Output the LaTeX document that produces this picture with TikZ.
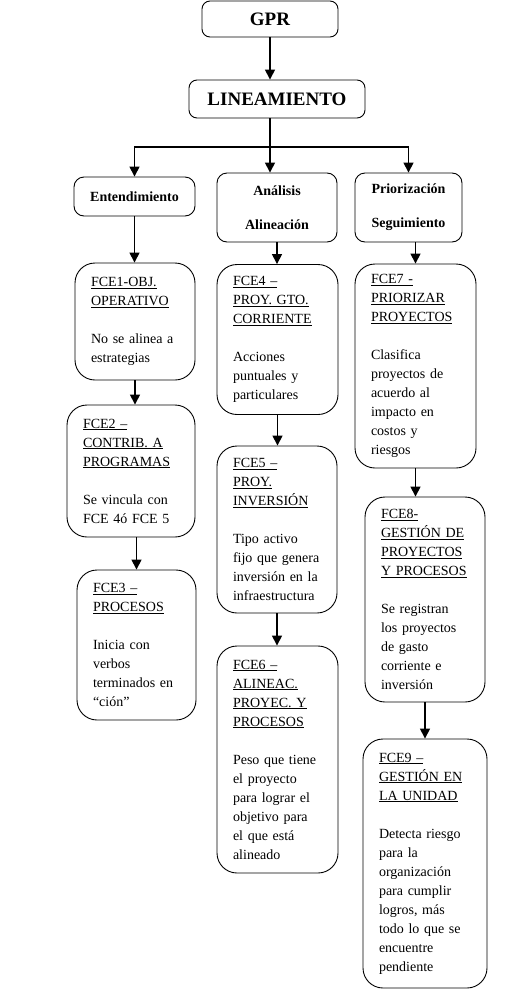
\documentclass[tikz,border=0pt]{standalone}
\usepackage{fontspec}
\setmainfont{Liberation Serif}
\usepackage{tikz}
\usetikzlibrary{positioning}
\usetikzlibrary{arrows.meta}
\frenchspacing

\begin{document}
\begin{tikzpicture}[
  x=1pt, y=-1pt,
  topbox/.style={
    rectangle,
    rounded corners=8pt,
    draw,
    line width=0.9pt,
    font=\fontsize{19}{23}\selectfont\bfseries
  },
  stage/.style={
    rectangle,
    rounded corners=10pt,
    draw,
    line width=0.9pt,
    align=center,
    font=\fontsize{14}{34}\selectfont\bfseries
  },
  fce/.style 2 args={
    rectangle,
    rounded corners=20pt,
    draw,
    line width=0.9pt,
    align=left,
    inner xsep=16pt,
    inner ysep=3pt,
    text width=#1,
    minimum height=#2,
    font=\fontsize{14}{19}\selectfont
  },
  arr/.style={-{Triangle[width=10pt,length=10pt]}, line width=1.5pt}
]
\useasboundingbox (0,0) rectangle (520,1004);

% ===================== top =====================
\node[topbox, minimum width=136pt, minimum height=36pt] (gpr) at (270,19) {GPR};
\node[topbox, minimum width=176pt, minimum height=38pt] (lin) at (277,99) {LINEAMIENTO};

\node[stage, minimum width=121pt, minimum height=39pt] (ent) at (134.5,196.5) {Entendimiento};
\node[stage, minimum width=120pt, minimum height=69pt] (ana) at (277,207.5) {Análisis\\Alineación};
\node[stage, minimum width=107pt, minimum height=69pt] (pri) at (408.5,207.5) {Priorización\\Seguimiento};

\coordinate (hub) at (270,147);

\draw[arr] (gpr.south) -- (gpr.south |- lin.north);
\draw[line width=1.5pt] (gpr.south |- lin.south) -- (hub);
\draw[arr] (hub) -- (hub |- ana.north);
\draw[arr] (hub) -| (ent.north);
\draw[arr] (hub) -| (pri.north);

% ===================== left column =====================
\node[fce={88pt}{117pt}] (f1) at (135,321.5)
  {\underline{FCE1-OBJ.}\\\underline{OPERATIVO}\\[19pt]No se alinea a\\estrategias};
\node[fce={96pt}{132pt}] (f2) at (131,471)
  {\underline{FCE2 –}\\\underline{CONTRIB. A}\\\underline{PROGRAMAS}\\[19pt]Se vincula con\\FCE 4ó FCE 5};
\node[fce={87pt}{150pt}] (f3) at (136.5,645)
  {\underline{FCE3 –}\\\underline{PROCESOS}\\[19pt]Inicia con\\verbos\\terminados en\\“ción”};

\draw[arr] (ent.south) -- (ent.south |- f1.north);
\draw[arr] (f1.south) -- (f1.south |- f2.north);
\draw[arr] (f3.north |- f2.south) -- (f3.north);

% ===================== middle column =====================
\node[fce={89pt}{150pt}] (f4) at (277.5,339.5)
  {\underline{FCE4 –}\\\underline{PROY. GTO.}\\\underline{CORRIENTE}\\[19pt]Acciones\\puntuales y\\particulares};
\node[fce={88pt}{167pt}] (f5) at (277,529.5)
  {\underline{FCE5 –}\\\underline{PROY.}\\\underline{INVERSIÓN}\\[19pt]Tipo activo\\fijo que genera\\inversión en la\\infraestructura};
\node[fce={89pt}{227pt}] (f6) at (277.5,759.5)
  {\underline{FCE6 –}\\\underline{ALINEAC.}\\\underline{PROYEC. Y}\\\underline{PROCESOS}\\[19pt]Peso que tiene\\el proyecto\\para lograr el\\objetivo para\\el que está\\alineado};

\draw[arr] (ana.south) -- (ana.south |- f4.north);
\draw[arr] (f4.south) -- (f4.south |- f5.north);
\draw[arr] (f5.south) -- (f5.south |- f6.north);

% ===================== right column =====================
\node[fce={89pt}{204pt}] (f7) at (415.5,366)
  {\underline{FCE7 -}\\\underline{PRIORIZAR}\\\underline{PROYECTOS}\\[19pt]Clasifica\\proyectos de\\acuerdo al\\impacto en\\costos y\\riesgos};
\node[fce={88pt}{205pt}] (f8) at (425,599.5)
  {\underline{FCE8-}\\\underline{GESTIÓN DE}\\\underline{PROYECTOS}\\\underline{Y PROCESOS}\\[19pt]Se registran\\los proyectos\\de gasto\\corriente e\\inversión};
\node[fce={92pt}{249pt}] (f9) at (425,863.5)
  {\underline{FCE9 –}\\\underline{GESTIÓN EN}\\\underline{LA UNIDAD}\\[19pt]Detecta riesgo\\para la\\organización\\para cumplir\\logros, más\\todo lo que se\\encuentre\\pendiente};

\draw[arr] (f7.north |- pri.south) -- (f7.north);
\draw[arr] (f7.south) -- (f7.south |- f8.north);
\draw[arr] (f8.south) -- (f8.south |- f9.north);

\end{tikzpicture}
\end{document}
